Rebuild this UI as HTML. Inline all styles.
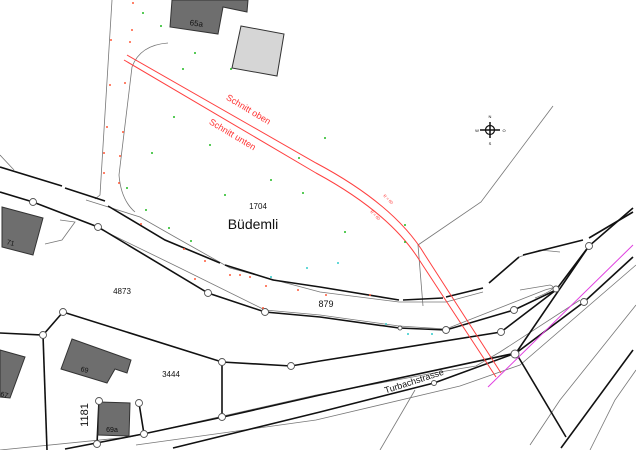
<!DOCTYPE html>
<html><head><meta charset="utf-8"><style>
html,body{margin:0;padding:0;background:#fff;width:636px;height:450px;overflow:hidden}
svg{display:block}
text{font-family:"Liberation Sans",sans-serif}
</style></head><body>
<svg width="636" height="450" viewBox="0 0 636 450" xmlns="http://www.w3.org/2000/svg">
<rect width="636" height="450" fill="#fff"/>
<g fill="none" stroke="#777" stroke-width="0.8">
<path d="M112,0 L100,195 L95,199"/>
<path d="M168,43 Q140,45 132,67 L119,175 Q121,200 135,212"/>
<path d="M0,155 L14,170"/>
<path d="M553,106 L481,202 L418,245 L423,306"/>
<path d="M86,200 L140,217 L175,237 L230,268 L320,292 L399,302 L446,302 L483,292"/>
<path d="M98,228 L180,268 L265,310 L320,315 L399,326"/>
<path d="M399,326 L446,329 L545,290 L552,288"/>
<path d="M0,450 L130,437 L316,395 L434,373 L476,366 L500,352 L580,300"/>
<path d="M136,445 L316,420 L460,386 L520,365 L636,265"/>
<path d="M380,450 L415,390"/>
<path d="M530,445 L560,400 L636,305"/>
<path d="M590,450 L615,400 L636,370"/>
<path d="M535,298 Q560,288 550,285 L520,290"/>
<path d="M519,257 L540,250 L560,252"/>
<path d="M60,220 L75,222 L62,240 L45,244"/>
</g>
<g fill="none" stroke="#111" stroke-width="1.6">
<path d="M0,167 L62,186 M65,188 L105,201 M108,206 L165,240 L220,263 M225,265 L273,280 L320,287 L399,300 M403,300 L443,298 M446,297 L483,288 M489,283 L519,257 M523,255 L583,240 M589,238 L633,212"/>
<path d="M0,192 L33,202 L98,227 L208,293 L265,312 L320,317 L399,328 L446,330 L514,310 L556,290 L589,246 L633,208"/>
<path d="M0,333 L43,335 L63,312 L222,362 L291,366 L320,361 L501,332 L556,290"/>
<path d="M43,335 L47,450"/>
<path d="M222,362 L222,417"/>
<path d="M65,449 L143,434 L223,417 L320,395 L516,353 L589,246"/>
<path d="M173,448 L320,412 L434,383 L516,353 L584,302 L633,257"/>
<path d="M516,353 L566,437"/>
<path d="M561,448 L633,350"/>
<path d="M139,403 L144,434 M99,401 L97,444"/>
</g>
<path d="M488,387 L633,245" stroke="#e040e0" stroke-width="1" fill="none"/>
<g fill="none" stroke="#ff4040" stroke-width="1">
<path d="M127,55 L316,163 Q395,205 425,255 L501,373"/>
<path d="M124,60 L316,173 Q388,212 418,258 L496,377"/>
</g>
<g stroke="#333" stroke-width="1">
<polygon points="193,0 248,0 247,12 223,7 218,34 170,27 172,0" fill="#6e6e6e"/>
<polygon points="241,26 284,34 277,76 232,68" fill="#d6d6d6"/>
<polygon points="2,207 43,218 33,255 2,247" fill="#6e6e6e"/>
<polygon points="72,339 131,360 127,373 115,369 107,383 61,369" fill="#6e6e6e"/>
<polygon points="0,350 25,357 10,398 0,397" fill="#6e6e6e"/>
<polygon points="99,402 130,403 129,436 98,435" fill="#6e6e6e"/>
</g>
<g fill="#fff" stroke="#555" stroke-width="0.9">
<circle cx="33" cy="202" r="3.5"/><circle cx="98" cy="227" r="3.5"/><circle cx="208" cy="293" r="3.5"/>
<circle cx="265" cy="312" r="3.5"/><circle cx="63" cy="312" r="3.5"/><circle cx="43" cy="335" r="3.5"/>
<circle cx="222" cy="362" r="3.5"/><circle cx="291" cy="366" r="3.5"/><circle cx="222" cy="417" r="3.5"/>
<circle cx="144" cy="434" r="3.5"/><circle cx="97" cy="444" r="3.5"/><circle cx="99" cy="401" r="3.5"/>
<circle cx="139" cy="403" r="3.5"/><circle cx="446" cy="330" r="3.5"/><circle cx="514" cy="310" r="3.5"/>
<circle cx="501" cy="332" r="3.5"/><circle cx="556" cy="289" r="3"/><circle cx="589" cy="246" r="3.5"/>
<circle cx="584" cy="302" r="3.5"/><circle cx="515" cy="354" r="4"/><circle cx="434" cy="383" r="2.5"/>
<circle cx="400" cy="328" r="2"/>
</g>
<g>
<g fill="#22bb22">
<circle cx="143" cy="13" r="1"/><circle cx="161" cy="26" r="1"/><circle cx="195" cy="53" r="1"/><circle cx="183" cy="69" r="1"/>
<circle cx="231" cy="69" r="1"/><circle cx="174" cy="117" r="1"/><circle cx="210" cy="145" r="1"/><circle cx="152" cy="153" r="1"/>
<circle cx="325" cy="138" r="1"/><circle cx="299" cy="158" r="1"/><circle cx="271" cy="180" r="1"/><circle cx="225" cy="195" r="1"/>
<circle cx="146" cy="210" r="1"/><circle cx="127" cy="188" r="1"/><circle cx="303" cy="193" r="1"/>
<circle cx="169" cy="228" r="1"/><circle cx="191" cy="241" r="1"/><circle cx="345" cy="232" r="1"/><circle cx="405" cy="225" r="1"/><circle cx="405" cy="242" r="1"/>
</g>
<g fill="#ff5a3a">
<circle cx="133" cy="3" r="1"/><circle cx="132" cy="30" r="1"/><circle cx="111" cy="40" r="1"/><circle cx="130" cy="42" r="1"/>
<circle cx="110" cy="85" r="1"/><circle cx="125" cy="83" r="1"/><circle cx="107" cy="127" r="1"/><circle cx="123" cy="132" r="1"/>
<circle cx="104" cy="153" r="1"/><circle cx="120" cy="156" r="1"/><circle cx="104" cy="173" r="1"/><circle cx="119" cy="183" r="1"/>
<circle cx="141" cy="224" r="1"/><circle cx="184" cy="249" r="1"/><circle cx="205" cy="261" r="1"/><circle cx="230" cy="275" r="1"/>
<circle cx="250" cy="277" r="1"/><circle cx="266" cy="286" r="1"/><circle cx="298" cy="290" r="1"/><circle cx="326" cy="295" r="1"/>
<circle cx="240" cy="275" r="1"/><circle cx="263" cy="308" r="1"/><circle cx="195" cy="279" r="1"/><circle cx="370" cy="295" r="1"/>
</g>
<g fill="#33cccc"><circle cx="307" cy="268" r="1"/><circle cx="271" cy="277" r="1"/><circle cx="338" cy="263" r="1"/><circle cx="386" cy="324" r="1"/><circle cx="408" cy="334" r="1"/><circle cx="432" cy="334" r="1"/></g>
</g>
<g stroke="#111" fill="none" stroke-width="1.2">
<circle cx="490" cy="130" r="4.5"/>
<path d="M490,122 L490,138 M480,130 L500,130" stroke-width="1.5"/>
</g>
<text x="490" y="118" font-size="4" text-anchor="middle">N</text>
<text x="490" y="145" font-size="4" text-anchor="middle">S</text>
<text x="477" y="132" font-size="4" text-anchor="middle">W</text>
<text x="504" y="132" font-size="4" text-anchor="middle">O</text>
<g fill="#111">
<text x="258" y="209" font-size="8" text-anchor="middle">1704</text>
<text x="253" y="229" font-size="14" text-anchor="middle">Büdemli</text>
<text x="122" y="294" font-size="8" text-anchor="middle">4873</text>
<text x="326" y="307" font-size="9" text-anchor="middle">879</text>
<text x="171" y="377" font-size="8" text-anchor="middle">3444</text>
<text x="0" y="0" font-size="11" text-anchor="middle" transform="translate(88,415) rotate(-90)">1181</text>
<text x="0" y="0" font-size="7" text-anchor="middle" transform="translate(84,372) rotate(15)">69</text>
<text x="112" y="432" font-size="7" text-anchor="middle">69a</text>
<text x="0" y="0" font-size="7" text-anchor="middle" transform="translate(10,245) rotate(15)">71</text>
<text x="0" y="0" font-size="7" transform="translate(0,396) rotate(15)">67</text>
<text x="0" y="0" font-size="8" text-anchor="middle" transform="translate(196,26) rotate(8)">65a</text>
<text x="0" y="0" font-size="9" text-anchor="middle" transform="translate(415,384) rotate(-18)">Turbachstrasse</text>
</g>
<g fill="#ff3030">
<text x="0" y="0" font-size="9" text-anchor="middle" transform="translate(247,112) rotate(31)">Schnitt oben</text>
<text x="0" y="0" font-size="9" text-anchor="middle" transform="translate(231,137) rotate(31)">Schnitt unten</text>
<text x="0" y="0" font-size="4" transform="translate(383,196) rotate(45)">R = 60</text>
<text x="0" y="0" font-size="4" transform="translate(370,212) rotate(45)">R = 60</text>
</g>
</svg>
</body></html>
